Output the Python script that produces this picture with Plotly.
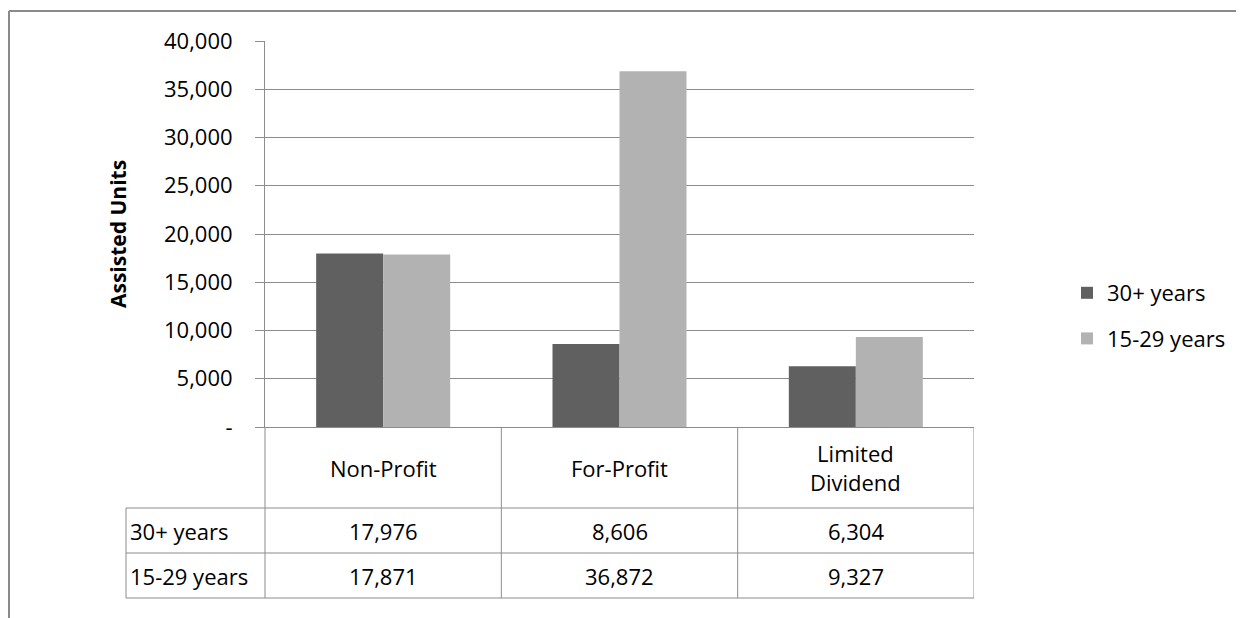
import plotly.graph_objects as go

# data
categories = ["Non-Profit", "For-Profit", "Limited<br>Dividend"]
series_names = ["30+ years", "15-29 years"]
units_30_plus = [17976, 8606, 6304]
units_15_29 = [17871, 36872, 9327]
y_ticks = [0, 5000, 10000, 15000, 20000, 25000, 30000, 35000, 40000]
y_tick_labels = ["-", "5,000", "10,000", "15,000", "20,000", "25,000", "30,000", "35,000", "40,000"]

W, H = 1244, 618
FONT = "Open Sans"
GRID = "#8c8c8c"
colors = ["#606060", "#b2b2b2"]
PAGE_PAD = 8  # browser body margin around the plot div


def px_x(x):
    return (x - PAGE_PAD) / W


def px_y(y):
    return 1 - (y - PAGE_PAD) / H


# plot area in pixels (page coordinates)
left, right, top, bottom = 265, 974, 41, 427
table_left = 126
row_lines = [508, 553, 598]

fig = go.Figure()
for name, vals, c in zip(series_names, [units_30_plus, units_15_29], colors):
    fig.add_trace(
        go.Bar(
            x=list(range(len(categories))),
            y=vals,
            name=name,
            marker=dict(color=c, line=dict(width=0)),
            legendgroup=name,
        )
    )

shapes = []
line = dict(color=GRID, width=1)

# chart frame (only top and left edges visible)
frame = dict(color="#8a8a8a", width=2)
shapes.append(dict(type="line", xref="paper", yref="paper", x0=px_x(9), x1=1.01,
                   y0=px_y(11), y1=px_y(11), line=frame))
shapes.append(dict(type="line", xref="paper", yref="paper", x0=px_x(9), x1=px_x(9),
                   y0=px_y(11), y1=-0.01, line=frame))

# data table horizontal lines
for ry in row_lines:
    shapes.append(dict(type="line", xref="paper", yref="paper", x0=px_x(table_left),
                       x1=px_x(right), y0=px_y(ry), y1=px_y(ry), line=line))
# data table vertical lines
shapes.append(dict(type="line", xref="paper", yref="paper", x0=px_x(table_left),
                   x1=px_x(table_left), y0=px_y(row_lines[0]), y1=px_y(row_lines[-1]), line=line))
shapes.append(dict(type="line", xref="paper", yref="paper", x0=px_x(left),
                   x1=px_x(left), y0=px_y(bottom), y1=px_y(row_lines[-1]), line=line))
for i in range(len(categories)):
    shapes.append(dict(type="line", xref="x", yref="paper", x0=i + 0.5, x1=i + 0.5,
                       y0=px_y(bottom), y1=px_y(row_lines[-1]), line=line))

annotations = []
tfont = dict(family=FONT, size=22, color="#000000")
header_mid = (bottom + row_lines[0]) / 2
for i, cat in enumerate(categories):
    annotations.append(dict(x=i, y=px_y(header_mid), xref="x", yref="paper", text=cat,
                            showarrow=False, font=tfont, xanchor="center", yanchor="middle"))
row_mids = [(row_lines[0] + row_lines[1]) / 2, (row_lines[1] + row_lines[2]) / 2]
for name, vals, ym in zip(series_names, [units_30_plus, units_15_29], row_mids):
    annotations.append(dict(x=px_x(table_left + 2), y=px_y(ym), xref="paper", yref="paper",
                            text=name, showarrow=False, font=tfont, xanchor="left",
                            yanchor="middle"))
    for i, v in enumerate(vals):
        annotations.append(dict(x=i, y=px_y(ym), xref="x", yref="paper", text=f"{v:,}",
                                showarrow=False, font=tfont, xanchor="center",
                                yanchor="middle"))

# y-axis title
annotations.append(dict(x=px_x(118), y=px_y((top + bottom) / 2), xref="paper", yref="paper",
                        text="<b>Assisted Units</b>", textangle=-90, showarrow=False,
                        font=dict(family=FONT, size=21, color="#000000"),
                        xanchor="center", yanchor="middle"))

fig.update_layout(
    width=W,
    height=H,
    margin=dict(l=0, r=0, t=0, b=0, autoexpand=False),
    paper_bgcolor="white",
    plot_bgcolor="white",
    font=dict(family=FONT, size=22, color="#000000"),
    barmode="group",
    bargap=0.433,
    bargroupgap=0,
    showlegend=True,
    legend=dict(
        x=px_x(1067),
        y=px_y(316),
        xanchor="left",
        yanchor="middle",
        font=dict(family=FONT, size=22),
        tracegroupgap=14,
        bgcolor="rgba(0,0,0,0)",
    ),
    xaxis=dict(
        domain=[px_x(left), px_x(right)],
        range=[-0.5, len(categories) - 0.5],
        showticklabels=False,
        ticks="",
        showgrid=False,
        showline=True,
        linecolor=GRID,
        linewidth=1,
        zeroline=False,
        automargin=False,
    ),
    yaxis=dict(
        domain=[px_y(bottom), px_y(top)],
        range=[0, 40000],
        tickvals=y_ticks,
        ticktext=y_tick_labels,
        ticks="outside",
        ticklen=9,
        tickcolor=GRID,
        ticklabelstandoff=18,
        showgrid=True,
        gridcolor=GRID,
        gridwidth=1,
        showline=True,
        linecolor=GRID,
        linewidth=1,
        zeroline=False,
        automargin=False,
    ),
    shapes=shapes,
    annotations=annotations,
)

fig.write_html("out.html")
